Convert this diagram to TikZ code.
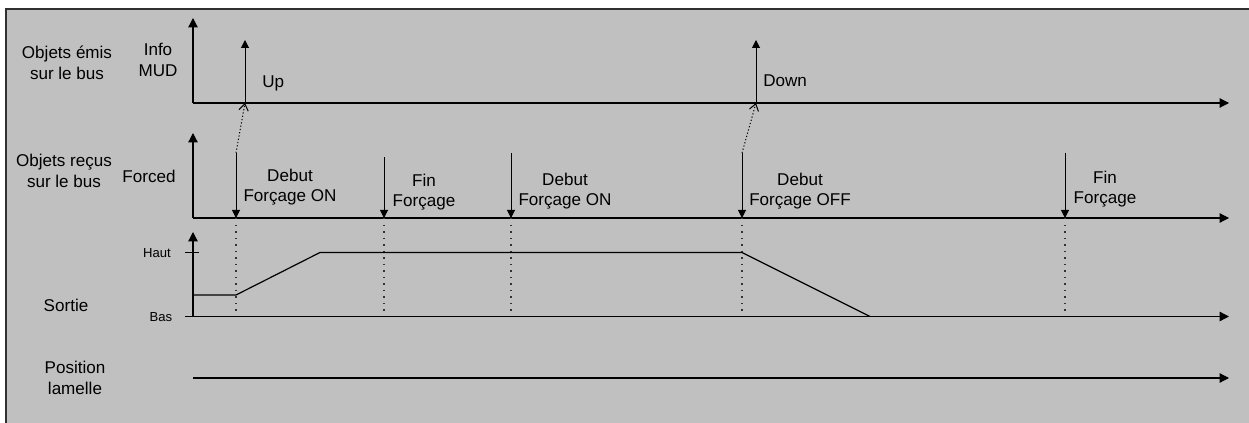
\documentclass[tikz,border=0pt]{standalone}
\usepackage{fontspec}
\setmainfont{Liberation Sans}
\usetikzlibrary{arrows.meta,positioning}
\definecolor{ChartGray}{HTML}{C0C0C0}
\definecolor{FrameDark}{HTML}{303030}

\begin{document}
\begin{tikzpicture}[
      x=0.75pt,y=-0.75pt,
      lbl/.style={align=center,font=\fontsize{12.8}{15.5}\selectfont,inner sep=0pt},
      lvl/.style={font=\fontsize{9.8}{11}\selectfont,inner sep=0pt},
      axis/.style={-{Triangle[length=7pt,width=7pt]},line width=0.9pt},
      event/.style={-{Triangle[length=6pt,width=6pt]},line width=0.75pt},
      hint/.style={-{Straight Barb[length=5pt,width=7pt]},line width=0.75pt,dash pattern=on 0.9pt off 1.6pt},
      guide/.style={line width=0.9pt,dash pattern=on 1.1pt off 3.8pt,black!80},
      signal/.style={line width=0.9pt}
    ]
      \useasboundingbox (0,0) rectangle (1249,423);
      \fill[ChartGray] (6,9) rectangle (1249,423);
      \draw[FrameDark,line width=1.5pt] (6,423) -- (6,9) -- (1249,9);
      % axes
      \coordinate (o1) at (193,103);   \coordinate (y1) at (193,18);  \coordinate (x1) at (1229,103);
      \coordinate (o2) at (193,218);   \coordinate (y2) at (193,133); \coordinate (x2) at (1229,218);
      \coordinate (o3) at (193,316.5); \coordinate (y3) at (193,232); \coordinate (x3) at (1229,316.5);
      \coordinate (o4) at (193,378);   \coordinate (x4) at (1229,378);
      \draw[axis] (o1) -- (y1);
      \draw[axis] (o1) -- (x1);
      \draw[axis] (o2) -- (y2);
      \draw[axis] (o2) -- (x2);
      \draw[axis] (o3) -- (y3);
      \draw[axis] (o3) -- (x3);
      \draw[axis] (o4) -- (x4);
      \coordinate (haut) at (193,252.5);
      \draw[line width=0.75pt] ([xshift=-6pt]haut) -- ([xshift=4.5pt]haut);
      \draw[line width=0.75pt] ([xshift=-6pt]o3) -- (o3);
      % sent objects
      \coordinate (up) at (245,103);   \coordinate (upTip) at (245,40);
      \coordinate (down) at (756,103); \coordinate (downTip) at (756,40);
      \draw[event] (up) -- (upTip);
      \draw[event] (down) -- (downTip);
      % received objects
      \foreach \t/\s [count=\i] in {236/153,384/157,511/153,742/153,1065/153} {
        \coordinate (e\i) at (\t,\s);
        \coordinate (b\i) at (\t,218);
        \coordinate (g\i) at (\t,314);
        \draw[event] (e\i) -- (b\i);
        \draw[guide] (b\i) -- (g\i);
      }
      \draw[hint] (e1) -- (up);
      \draw[hint] (e4) -- (down);
      % output
      \coordinate (lowStart) at (193,295);
      \coordinate (rampStart) at (236,295);
      \coordinate (rampEnd) at (320,252.5);
      \coordinate (fallStart) at (742,252.5);
      \coordinate (fallEnd) at (870,316.5);
      \draw[signal] (lowStart) -- (rampStart) -- (rampEnd) -- (fallStart) -- (fallEnd);
      % labels
      \node[lbl] (emis) at (67,63) {Objets émis\\sur le bus};
      \node[lbl] (mud) at (158,60) {Info\\MUD};
      \node[lbl,anchor=west] (upLbl) at (262,83) {Up};
      \node[lbl,anchor=west] (downLbl) at (763,81) {Down};
      \node[lbl] (recus) at (64,171) {Objets reçus\\sur le bus};
      \node[lbl] (forced) at (149,176) {Forced};
      \node[lbl] (onA) at (290,187) {Debut\\Forçage ON};
      \node[lbl] (finA) at (424,192) {Fin\\Forçage};
      \node[lbl] (onB) at (565,191) {Debut\\Forçage ON};
      \node[lbl] (off) at (800,191) {Debut\\Forçage OFF};
      \node[lbl] (finB) at (1105,189) {Fin\\Forçage};
      \node[lvl] (hautLbl) at (157,253) {Haut};
      \node[lvl] (basLbl) at (161,317) {Bas};
      \node[lbl] (sortie) at (66,305) {Sortie};
      \node[lbl] (lamelle) at (75,378) {Position\\lamelle};
    \end{tikzpicture}
\end{document}
